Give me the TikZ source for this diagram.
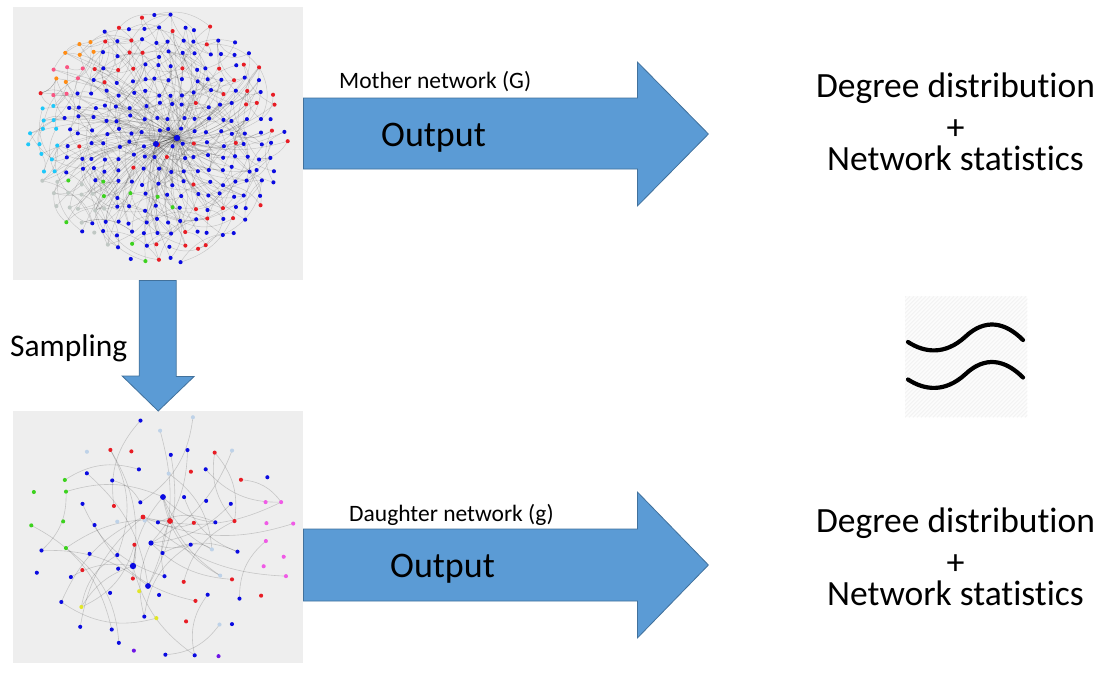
\documentclass[tikz,border=0pt]{standalone}
\usepackage{fontspec}
\setmainfont{Carlito}[Ligatures={CommonOff,ContextualOff}]
\usetikzlibrary{calc}
\definecolor{arrowblue}{RGB}{91,155,213}
\definecolor{arrowedge}{RGB}{65,113,156}
\definecolor{netbg}{RGB}{238,238,238}
\definecolor{nblue}{RGB}{10,10,225}
\definecolor{nred}{RGB}{232,28,36}
\definecolor{norange}{RGB}{255,140,20}
\definecolor{npink}{RGB}{250,85,130}
\definecolor{ncyan}{RGB}{30,200,250}
\definecolor{ngreen}{RGB}{60,210,30}
\definecolor{ngrey}{RGB}{192,200,196}
\definecolor{nlblue}{RGB}{190,210,232}
\definecolor{nmag}{RGB}{240,90,230}
\definecolor{nyellow}{RGB}{225,230,40}
\definecolor{npurple}{RGB}{110,20,230}
\definecolor{approxbg}{RGB}{252,252,252}
\definecolor{hatchcol}{RGB}{240,240,240}
\tikzset{
  netbox/.style={fill=netbg, draw=none, inner sep=0, anchor=north west},
  blockarrow/.style={fill=arrowblue, draw=arrowedge, line width=0.8, line join=miter},
  netedge/.style={draw=black, draw opacity=0.17, line width=0.45},
  lnetedge/.style={draw=black, draw opacity=0.17, line width=0.6},
  txt/.style={inner sep=0, anchor=base west},
  ctxt/.style={inner sep=0, anchor=base, font=\fontsize{35.5}{42}\selectfont},
  plustxt/.style={inner sep=0, anchor=center, font=\fontsize{36}{40}\selectfont},
  wave/.style={line width=4.2, line cap=round, draw=black},
}
\begin{document}
\begin{tikzpicture}[x=1pt,y=-1pt]
\useasboundingbox (0,0) rectangle (1111,673);
\fill[white] (0,0) rectangle (1111,673);

% ---------------- top (mother) network ----------------
\node[netbox, minimum width=290, minimum height=273] (topnet) at (13,7) {};
\coordinate (hubA) at (177,138);
\coordinate (hubB) at (156,144);
\begin{scope}
\clip (topnet.south west) rectangle (topnet.north east);
\pgfmathsetseed{12}
\foreach \gx in {0,...,20}{\foreach \gy in {0,...,19}{
  \pgfmathsetmacro\mypx{29+\gx*12.8+6*(rnd-0.5)}
  \pgfmathsetmacro\mypy{16+\gy*12.8+6*(rnd-0.5)}
  \coordinate (t\gx-\gy) at (\mypx,\mypy);
}}
\foreach \gx in {0,...,20}{\foreach \gy in {0,...,19}{
  \pgfmathsetmacro\myins{((\gx*12.8-128)/129)^2+((\gy*12.8-122)/124)^2}
  \ifdim\myins pt<1pt
    \pgfmathsetmacro\myr{rnd}
    \ifdim\myr pt<0.3pt \draw[netedge] (t\gx-\gy) to[bend left=18] (hubA);\fi
    \pgfmathsetmacro\myr{rnd}
    \ifdim\myr pt<0.2pt \draw[netedge] (t\gx-\gy) to[bend left=18] (hubB);\fi
    \foreach \rep in {1,2}{
      \pgfmathtruncatemacro\mytx{\gx+random(0,8)-4}
      \pgfmathtruncatemacro\myty{\gy+random(0,8)-4}
      \pgfmathsetmacro\mytins{((\mytx*12.8-128)/129)^2+((\myty*12.8-122)/124)^2}
      \pgfmathtruncatemacro\mysame{(\mytx==\gx)&&(\myty==\gy)}
      \ifnum\mysame=0
        \ifdim\mytins pt<1pt \draw[netedge] (t\gx-\gy) to[bend left=28] (t\mytx-\myty);\fi
      \fi
    }
  \fi
}}
\foreach \gx in {0,...,20}{\foreach \gy in {0,...,19}{
  \pgfmathsetmacro\myins{((\gx*12.8-128)/129)^2+((\gy*12.8-122)/124)^2}
  \ifdim\myins pt<1pt
    \pgfmathsetmacro\mycx{29+\gx*12.8}
    \pgfmathsetmacro\mycy{16+\gy*12.8}
    \pgfmathsetmacro\myq{rnd}
    \pgfmathsetmacro\mydist{veclen((\mycx-157)/10,(\mycy-138)/10)}
    \def\mycol{nblue}
    \ifdim\mydist pt>9.5pt
      \ifdim\myq pt<0.35pt\def\mycol{nred}\fi
    \else
      \ifdim\myq pt<0.12pt\def\mycol{nred}\fi
    \fi
    \pgfmathtruncatemacro\myzone{(((\mycx-58)/10)^2+((\mycy-70)/10)^2<6.5) ? 1 : ((\mycx>60 && \mycx<100 && \mycy<62) ? 2 : ((\mycx<56 && \mycy>100 && \mycy<175) ? 3 : ((\mycx<118 && \mycy>182) ? 4 : ((\mycx>115 && \mycx<180 && \mycy>195) ? 5 : 0))))}
    \ifcase\myzone
    \or \ifdim\myq pt<0.7pt\def\mycol{npink}\else\def\mycol{norange}\fi
    \or \def\mycol{norange}
    \or \def\mycol{ncyan}
    \or \ifdim\myq pt<0.6pt\def\mycol{ngrey}\else\ifdim\myq pt<0.8pt\def\mycol{ngreen}\fi\fi
    \or \ifdim\myq pt<0.3pt\def\mycol{ngreen}\fi
    \fi
    \fill[\mycol] (t\gx-\gy) circle (2.05);
  \fi
}}
\fill[nblue] (hubA) circle (3.2);
\fill[nblue] (hubB) circle (3);
\end{scope}

% ---------------- bottom (daughter) network ----------------
\node[netbox, minimum width=290, minimum height=252] (botnet) at (13,411) {};
\coordinate (bh1) at (163,497);
\coordinate (bh2) at (170,521);
\coordinate (bh3) at (151,543);
\coordinate (bh4) at (133,566);
\coordinate (bh5) at (148,586);
\coordinate (bh6) at (143,517);
\begin{scope}
\clip (botnet.south west) rectangle (botnet.north east);
\pgfmathsetseed{5}
\foreach \gx in {0,...,10}{\foreach \gy in {0,...,9}{
  \pgfmathsetmacro\mypx{38+\gx*25+16*(rnd-0.5)}
  \pgfmathsetmacro\mypy{424+\gy*25+16*(rnd-0.5)}
  \coordinate (b\gx-\gy) at (\mypx,\mypy);
}}
\foreach \gx in {0,...,10}{\foreach \gy in {0,...,9}{
  \pgfmathsetmacro\myins{((\gx*25-125)/132)^2+((\gy*25-113)/122)^2}
  \ifdim\myins pt<1pt
    \pgfmathsetmacro\myr{rnd}
    \ifdim\myr pt<0.35pt
      \pgfmathtruncatemacro\myh{random(1,6)}
      \draw[lnetedge] (b\gx-\gy) to[bend left=20] (bh\myh);
    \fi
    \pgfmathsetmacro\myr{rnd}
    \ifdim\myr pt<0.65pt
      \pgfmathtruncatemacro\mytx{\gx+random(0,8)-4}
      \pgfmathtruncatemacro\myty{\gy+random(0,8)-4}
      \pgfmathsetmacro\mytins{((\mytx*25-125)/132)^2+((\myty*25-113)/122)^2}
      \pgfmathtruncatemacro\mysame{(\mytx==\gx)&&(\myty==\gy)}
      \ifnum\mysame=0
        \ifdim\mytins pt<1pt \draw[lnetedge] (b\gx-\gy) to[bend left=25] (b\mytx-\myty);\fi
      \fi
    \fi
  \fi
}}
\foreach \gx in {0,...,10}{\foreach \gy in {0,...,9}{
  \pgfmathsetmacro\myins{((\gx*25-125)/132)^2+((\gy*25-113)/122)^2}
  \ifdim\myins pt<1pt
    \pgfmathsetmacro\mycx{38+\gx*25}
    \pgfmathsetmacro\mycy{424+\gy*25}
    \pgfmathsetmacro\myq{rnd}
    \def\mycol{nblue}
    \ifdim\myq pt<0.28pt\def\mycol{nred}\else\ifdim\myq pt<0.4pt\def\mycol{nlblue}\fi\fi
    \pgfmathtruncatemacro\myzone{(\mycx<80 && \mycy>455 && \mycy<552) ? 1 : ((\mycx>262 && \mycy>495 && \mycy<575) ? 2 : ((\mycx>70 && \mycx<175 && \mycy>598 && \mycy<635) ? 3 : ((\mycy>638 && \mycx>115 && \mycx<240) ? 4 : 0)))}
    \ifcase\myzone
    \or \ifdim\myq pt<0.8pt\def\mycol{ngreen}\fi
    \or \def\mycol{nmag}
    \or \ifdim\myq pt<0.5pt\def\mycol{nyellow}\fi
    \or \ifdim\myq pt<0.45pt\def\mycol{npurple}\fi
    \fi
    \fill[\mycol] (b\gx-\gy) circle (2.05);
  \fi
}}
\fill[nblue] (bh1) circle (2.9);
\fill[nred] (bh2) circle (2.9);
\fill[nblue] (bh3) circle (2.6);
\fill[nblue] (bh4) circle (3.2);
\fill[nblue] (bh5) circle (2.9);
\fill[nred] (bh6) circle (2.4);
\end{scope}

% ---------------- block arrows ----------------
\draw[blockarrow] (topnet.north east) ++(0,91) -- ++(334,0) -- ++(0,-36) -- ++(71,72)
  -- ++(-71,72) -- ++(0,-37) -- ++(-334,0) -- cycle;
\draw[blockarrow] (botnet.north east) ++(0,118) -- ++(334,0) -- ++(0,-37) -- ++(71,73)
  -- ++(-71,73) -- ++(0,-37) -- ++(-334,0) -- cycle;
\draw[blockarrow] (topnet.south) ++(-19,0) -- ++(37,0) -- ++(0,96) -- ++(18,0)
  -- (botnet.north) -- ++(-36,-35) -- ++(17,0) -- cycle;

% ---------------- texts ----------------
\node[txt, font=\fontsize{23.5}{27}\selectfont] (mlab) at (339,88) {Mother network (G)};
\node[txt, font=\fontsize{36}{43}\selectfont] (out1) at (381,146) {Output};
\node[txt, font=\fontsize{31.5}{38}\selectfont] (samp) at (10,356) {Sampling};
\node[txt, font=\fontsize{23.5}{27}\selectfont] (dlab) at (349,521) {Daughter network (g)};
\node[txt, font=\fontsize{36}{43}\selectfont] (out2) at (390,577) {Output};

\node[ctxt] (deg1) at (955.5,97) {Degree distribution};
\node[plustxt] (plus1) at (955.5,129.5) {+};
\node[ctxt] (net1) at (955.5,170) {Network statistics};
\node[ctxt] (deg2) at (955.5,532) {Degree distribution};
\node[plustxt] (plus2) at (955.5,564.5) {+};
\node[ctxt] (net2) at (955.5,605) {Network statistics};

% ---------------- approx symbol ----------------
\node[inner sep=0, minimum width=122, minimum height=121, anchor=north west, fill=approxbg] (approx) at (905,296) {};
\begin{scope}
\clip (approx.south west) rectangle (approx.north east);
\foreach \k in {-120,-116,...,124}
  \draw[hatchcol, line width=0.8] ($(approx.south west)+(\k,0)$) -- ++(121,-121);
\end{scope}
\draw[wave] (908,342) .. controls (925,353) and (945,355) .. (965,337)
  .. controls (985,318) and (1005,322) .. (1023,340);
\draw[wave] (908,379.5) .. controls (925,390.5) and (945,392.5) .. (965,374.5)
  .. controls (985,355.5) and (1005,359.5) .. (1023,377.5);
\end{tikzpicture}
\end{document}
